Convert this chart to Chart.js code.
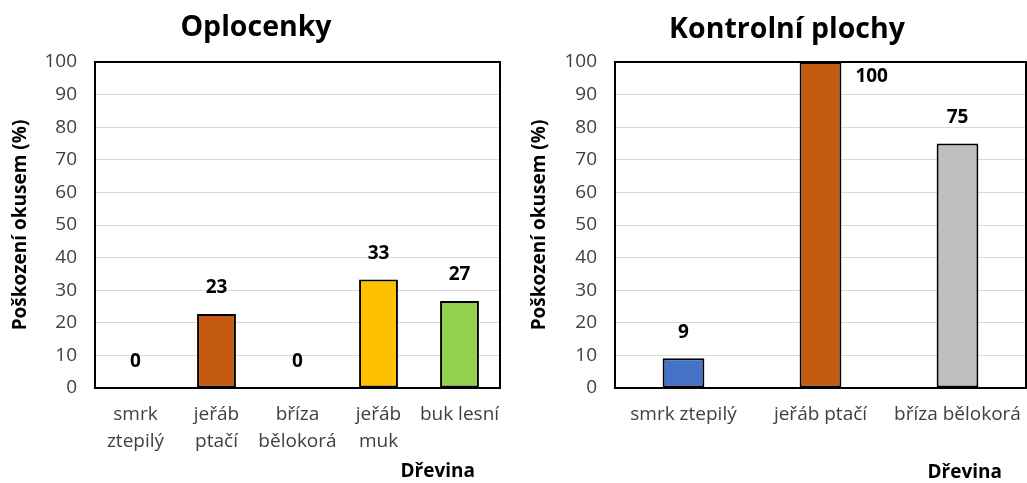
<!DOCTYPE html>
<html>
<head>
<meta charset="utf-8">
<title>Poškození okusem</title>
<script src="https://cdn.jsdelivr.net/npm/chart.js@4/dist/chart.umd.min.js"></script>
<style>
  body { margin: 0; background: #fff; }
  .panel { position: absolute; top: 0; height: 483px; }
  #left { left: 0; width: 513px; }
  #right { left: 513px; width: 514px; }
</style>
</head>
<body>
<div class="panel" id="left"><canvas id="oplocenky"></canvas></div>
<div class="panel" id="right"><canvas id="kontrolni"></canvas></div>
<script>
// Oplocenky (fenced plots)
const oploLabels = [['smrk', 'ztepilý'], ['jeřáb', 'ptačí'], ['bříza', 'bělokorá'], ['jeřáb', 'muk'], 'buk lesní'];
const oploValues = [0, 22.7, 0, 33.3, 26.7];
const oploColors = ['#4472C4', '#C55A11', '#BFBFBF', '#FFC000', '#92D050'];

// Kontrolní plochy (control plots)
const kontrolLabels = ['smrk ztepilý', 'jeřáb ptačí', 'bříza bělokorá'];
const kontrolValues = [9.1, 100, 75];
const kontrolColors = ['#4472C4', '#C55A11', '#BFBFBF'];

const yMin = 0, yMax = 100, yStep = 10;
const yTitle = 'Poškození okusem (%)';
const xTitle = 'Dřevina';

const FONT = "'Open Sans', 'DejaVu Sans', sans-serif";

// heading, frame round the plot area and x axis caption at bottom right
const framePlugin = {
  id: 'frame',
  afterDatasetsDraw(chart) {
    const a = chart.chartArea, ctx = chart.ctx;
    ctx.save();
    ctx.strokeStyle = '#000';
    ctx.lineWidth = 2;
    ctx.strokeRect(a.left, a.top, a.right - a.left, a.bottom - a.top);
    ctx.restore();
  },
  afterDraw(chart, args, opts) {
    const a = chart.chartArea, ctx = chart.ctx;
    ctx.save();
    ctx.fillStyle = '#000';
    ctx.textBaseline = 'middle';
    ctx.font = 'bold 28.5px ' + FONT;
    ctx.textAlign = 'center';
    ctx.fillText(opts.heading, opts.headingX, opts.headingY);
    ctx.font = 'bold 19px ' + FONT;
    ctx.textAlign = 'right';
    ctx.fillText(xTitle, a.right - opts.captionInset, opts.captionY);
    ctx.restore();
  }
};

// value labels above the bars (to the right when the bar hits the top)
const valueLabels = {
  id: 'valueLabels',
  afterDatasetsDraw(chart) {
    const ctx = chart.ctx, a = chart.chartArea;
    const meta = chart.getDatasetMeta(0);
    const data = chart.data.datasets[0].data;
    ctx.save();
    ctx.font = 'bold 19px ' + FONT;
    ctx.fillStyle = '#000';
    ctx.textBaseline = 'middle';
    meta.data.forEach((bar, i) => {
      const txt = String(Math.round(data[i]));
      let y = bar.y - 26;
      if (y < a.top + 10) {
        ctx.textAlign = 'left';
        ctx.fillText(txt, bar.x + bar.width / 2 + 14, a.top + 15);
      } else {
        ctx.textAlign = 'center';
        ctx.fillText(txt, bar.x, y);
      }
    });
    ctx.restore();
  }
};

function makeChart(id, title, labels, values, colors, layout) {
  return new Chart(document.getElementById(id), {
    type: 'bar',
    data: {
      labels: labels,
      datasets: [{
        data: values,
        backgroundColor: colors,
        borderColor: '#000',
        borderWidth: 2,
        borderSkipped: false,
        categoryPercentage: 1,
        barPercentage: layout.barPct
      }]
    },
    options: {
      responsive: true,
      maintainAspectRatio: false,
      animation: false,
      layout: { padding: { left: 0, right: layout.rightPad, top: 62, bottom: 0 } },
      plugins: {
        legend: { display: false },
        tooltip: { enabled: false },
        title: { display: false },
        frame: {
          heading: title,
          headingX: layout.headingX,
          headingY: layout.headingY,
          captionInset: layout.captionInset,
          captionY: layout.captionY
        }
      },
      scales: {
        x: {
          grid: { display: false, drawTicks: false },
          border: { display: false },
          ticks: {
            color: '#404040',
            padding: 13.5,
            maxRotation: 0,
            autoSkip: false,
            font: { family: FONT, size: 19, lineHeight: 1.42 }
          },
          afterFit(scale) {
            scale.height = 483 - 388;
            // labels may overhang the plot edge, as in the original
            scale.paddingLeft = 0;
            scale.paddingRight = 0;
          }
        },
        y: {
          min: yMin,
          max: yMax,
          grid: { color: '#D9D9D9', lineWidth: 1, drawTicks: false },
          border: { display: false },
          ticks: {
            stepSize: yStep,
            color: '#404040',
            padding: 18,
            font: { family: FONT, size: 19 }
          },
          title: {
            display: true,
            text: yTitle,
            color: '#000',
            font: { family: FONT, size: 19, weight: 'bold', lineHeight: 1.2 },
            padding: { top: layout.yTitlePad, bottom: 0 }
          },
          afterFit(scale) { scale.width = layout.plotLeft; }
        }
      }
    },
    plugins: [framePlugin, valueLabels]
  });
}

makeChart('oplocenky', 'Oplocenky', oploLabels, oploValues, oploColors,
  { barPct: 0.48, rightPad: 13, headingX: 256, headingY: 28, plotLeft: 95, yTitlePad: 9.6, captionInset: 25, captionY: 472 });
makeChart('kontrolni', 'Kontrolní plochy', kontrolLabels, kontrolValues, kontrolColors,
  { barPct: 0.305, rightPad: 1, headingX: 274, headingY: 30, plotLeft: 102, yTitlePad: 15.1, captionInset: 24, captionY: 473 });
</script>
</body>
</html>
